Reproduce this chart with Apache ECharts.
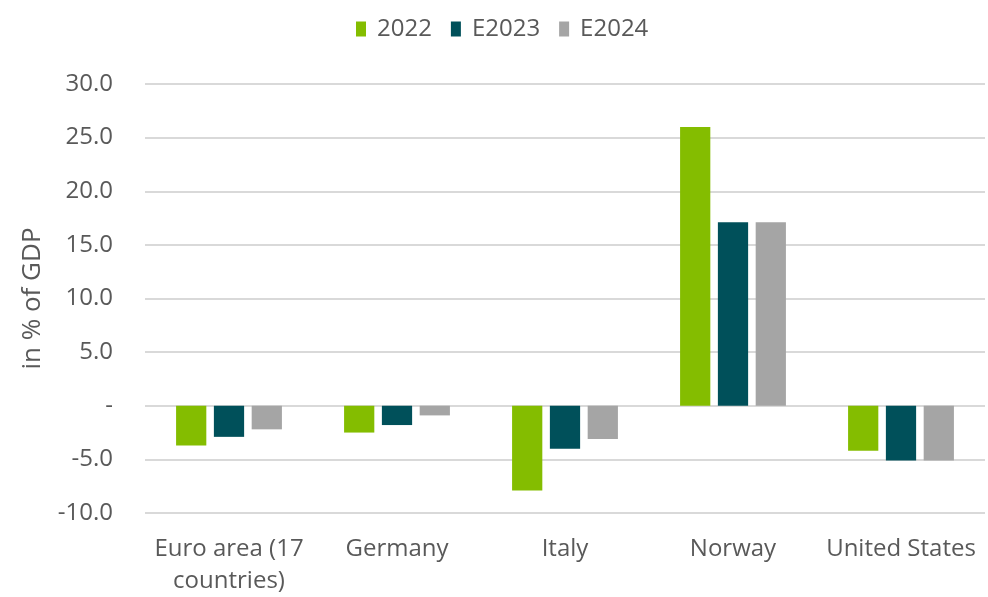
<!DOCTYPE html>
<html>
<head>
    <meta charset="utf-8">
    <title>ECharts</title>
    <script src="https://cdn.jsdelivr.net/npm/echarts@6/dist/echarts.min.js"></script>
</head>
<body style="margin:0">
    <div id="main" style="width: 988px;height:597px;"></div>
    <script type="text/javascript">
        var categories = ['Euro area (17\ncountries)', 'Germany', 'Italy', 'Norway', 'United States'];
        var seriesNames = ['2022', 'E2023', 'E2024'];
        var values2022 = [-3.7, -2.5, -7.9, 26.0, -4.2];
        var valuesE2023 = [-2.9, -1.8, -4.0, 17.1, -5.1];
        var valuesE2024 = [-2.2, -0.9, -3.1, 17.1, -5.1];
        var colors = ['#84bd00', '#00505a', '#a5a5a5'];

        var myChart = echarts.init(document.getElementById('main'));
        var font = '"Open Sans", sans-serif';

        var option = {
            color: colors,
            animation: false,
            legend: {
                top: 12,
                left: 351,
                itemWidth: 10,
                itemHeight: 15,
                itemGap: 19,
                icon: 'rect',
                textStyle: { fontFamily: font, fontSize: 24, color: '#595959', padding: [0, 0, 0, 6] },
                data: seriesNames
            },
            grid: { left: 145, right: 3, top: 84, bottom: 81 },
            xAxis: {
                type: 'category',
                data: categories,
                axisLine: { show: false, onZero: false },
                axisTick: { show: false },
                axisLabel: {
                    fontFamily: font, fontSize: 24, color: '#595959',
                    margin: 20, lineHeight: 32, interval: 0
                }
            },
            yAxis: {
                type: 'value',
                min: -10,
                max: 30,
                interval: 5,
                name: 'in % of GDP',
                nameLocation: 'middle',
                nameGap: 99,
                nameTextStyle: { fontFamily: font, fontSize: 26, color: '#595959' },
                axisLabel: {
                    fontFamily: font, fontSize: 24, color: '#595959', margin: 32,
                    formatter: function (v) {
                        return v === 0 ? '-' : v.toFixed(1);
                    }
                },
                splitLine: { lineStyle: { color: '#d9d9d9', width: 2 } }
            },
            series: [
                { name: seriesNames[0], type: 'bar', data: values2022, barWidth: '18%', barGap: '25%' },
                { name: seriesNames[1], type: 'bar', data: valuesE2023, barWidth: '18%', barGap: '25%' },
                { name: seriesNames[2], type: 'bar', data: valuesE2024, barWidth: '18%', barGap: '25%' }
            ]
        };

        myChart.setOption(option);
    </script>
</body>
</html>
